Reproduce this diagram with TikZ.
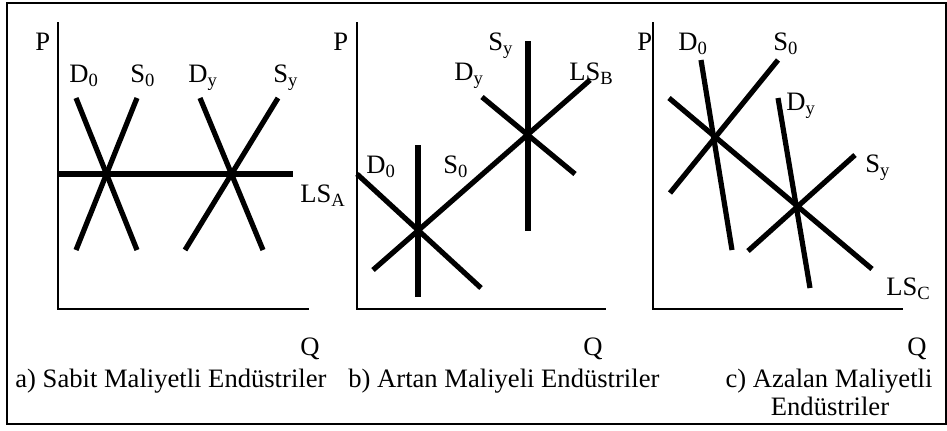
\documentclass[tikz,border=0pt]{standalone}
\usepackage{fontspec}
\setmainfont{Liberation Serif}

\tikzset{
  axis/.style={line width=1pt},
  curve/.style={line width=2.6pt},
  lbl/.style={inner sep=0pt, anchor=base west},
}

\begin{document}
\begin{tikzpicture}[x=0.5pt, y=-0.5pt, font=\fontsize{13.3}{15}\selectfont]
\useasboundingbox (0,0) rectangle (947,430);
\draw[line width=1pt] (7,3) rectangle (945.5,424);

% a) constant cost
\draw[axis] (58,22) -- (58,309) -- (309,309);
\draw[curve] (76,98) -- (137,250);
\draw[curve] (137,98) -- (76,250);
\draw[curve] (200,98) -- (263,250);
\draw[curve] (278,98) -- (185,250);
\draw[curve] (58,174) -- (293,174);
\node[lbl] (pa)  at (35,50)  {P};
\node[lbl] (d0a) at (69,82)  {D\textsubscript{0}};
\node[lbl] (s0a) at (130,82) {S\textsubscript{0}};
\node[lbl] (dya) at (188,82) {D\textsubscript{y}};
\node[lbl] (sya) at (273,82) {S\textsubscript{y}};
\node[lbl] (lsa) at (300,202) {LS\textsubscript{A}};
\node[lbl] (qa)  at (300,355) {Q};
\node[lbl] (capa) at (15,387) {a) Sabit Maliyetli Endüstriler};

% b) increasing cost
\draw[axis] (357,22) -- (357,309) -- (606,309);
\draw[curve] (357,174) -- (481,288);
\draw[curve] (418,145) -- (418,297);
\draw[curve] (373,270) -- (590,80);
\draw[curve] (528,41) -- (528,231);
\draw[curve] (482,97) -- (575,174);
\node[lbl] (pb)  at (333,50)  {P};
\node[lbl] (syb) at (488,50)  {S\textsubscript{y}};
\node[lbl] (dyb) at (454,80)  {D\textsubscript{y}};
\node[lbl] (lsb) at (569,80)  {LS\textsubscript{B}};
\node[lbl] (d0b) at (366,173) {D\textsubscript{0}};
\node[lbl] (s0b) at (443,173) {S\textsubscript{0}};
\node[lbl] (qb)  at (583,355) {Q};
\node[lbl] (capb) at (348,387) {b) Artan Maliyeli Endüstriler};

% c) decreasing cost
\draw[axis] (653,22) -- (653,309) -- (903,309);
\draw[curve] (701,60) -- (732,250);
\draw[curve] (778,60) -- (670,193);
\draw[curve] (669,98) -- (872,269);
\draw[curve] (778,98) -- (810,288);
\draw[curve] (855,155) -- (748,251);
\node[lbl] (pc)  at (637,50)  {P};
\node[lbl] (d0c) at (678,50)  {D\textsubscript{0}};
\node[lbl] (s0c) at (773,50)  {S\textsubscript{0}};
\node[lbl] (dyc) at (786,110) {D\textsubscript{y}};
\node[lbl] (syc) at (865,172) {S\textsubscript{y}};
\node[lbl] (lsc) at (886,295) {LS\textsubscript{C}};
\node[lbl] (qc)  at (907,355) {Q};
\node[anchor=base, inner sep=0pt] (capc1) at (829,387) {c) Azalan Maliyetli};
\node[anchor=base, inner sep=0pt] (capc2) at (830,415) {Endüstriler};
\end{tikzpicture}
\end{document}
